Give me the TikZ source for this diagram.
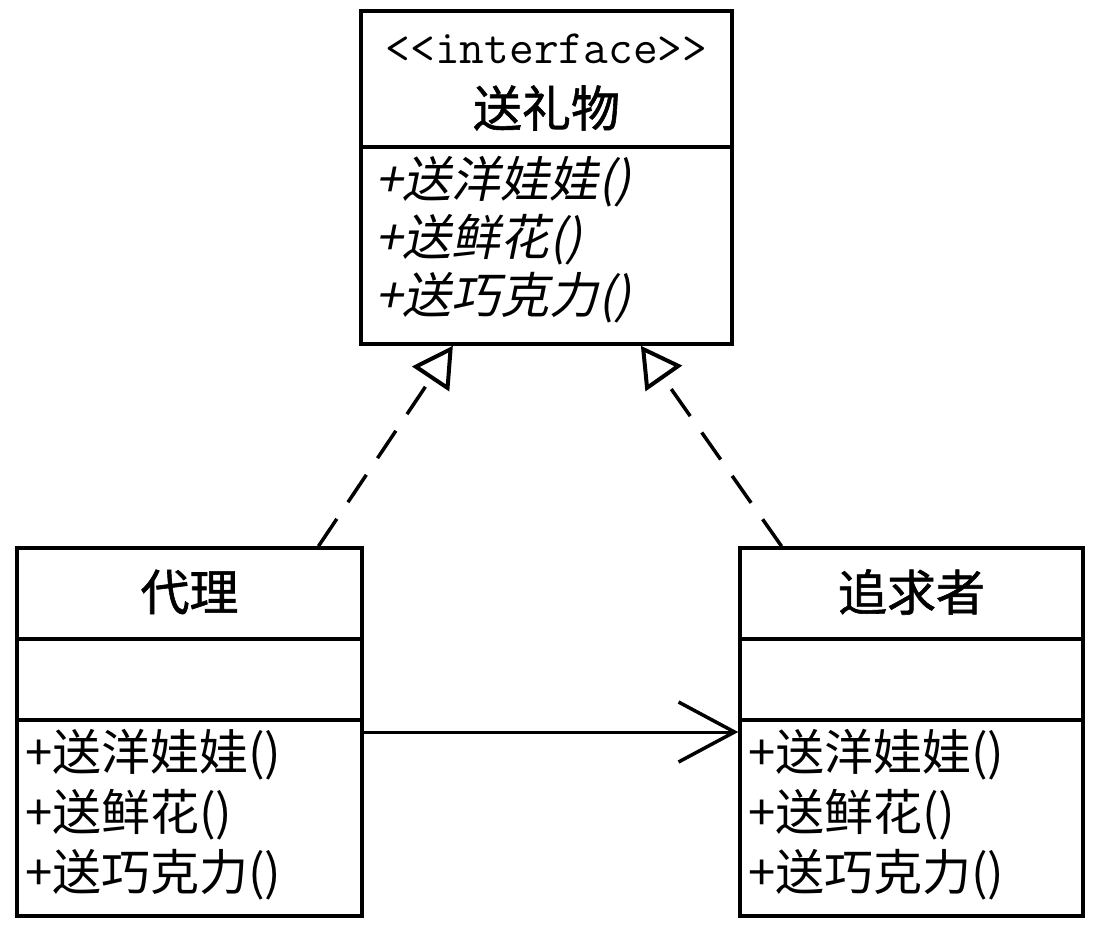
\documentclass[tikz,border=0pt]{standalone}
\usepackage{fontspec}
\newfontfamily\cjk{Noto Sans CJK SC}
\newfontfamily\cjkheavy{Noto Sans CJK SC}[FakeBold=1.2]
\newfontfamily\cjkslant{Noto Sans CJK SC}[FakeSlant=0.2]
\usepackage{tikz}
\usetikzlibrary
  {
    arrows.meta, % open triangle and barb heads
    calc,        % points along the box borders
  }

\tikzset{
  classbox/.style={draw, line width=3.5pt, inner sep=0pt},
  divider/.style={line width=3.5pt},
  classname/.style={font=\cjkheavy\fontsize{49}{58}\selectfont, inner sep=0pt},
  ops/.style={font=\cjk\fontsize{49}{60}\selectfont, align=left, anchor=west, inner sep=0pt},
  slantops/.style={ops, font=\cjkslant\fontsize{49}{58}\selectfont},
  realize/.style={line width=3.5pt, dash pattern=on 33pt off 20pt,
    -{Triangle[open, length=40pt, width=44pt, line width=4pt]}},
  assoc/.style={line width=3pt, -{Straight Barb[length=56pt, width=60pt, line width=3.5pt]}},
}

\begin{document}
\begin{tikzpicture}[x=1pt, y=-1pt]
    \useasboundingbox (0,0) rectangle (1098,930);

    % the interface
    \node[classbox, minimum width=371pt, minimum height=333pt] (gift) at (546.5,177.5) {};
    \draw[divider] (gift.west |- 0,147) -- (gift.east |- 0,147);
    \node[font=\ttfamily\fontsize{48}{58}\selectfont, inner sep=0pt] (giftstereo) at (546.5,49)
      {<\kern0pt<interface>\kern0pt>};
    \node[classname] (gifttitle) at (546.5,108) {送礼物};
    \node[slantops] (giftops) at (375,240) {+送洋娃娃()\\+送鲜花()\\+送巧克力()};

    % the proxy
    \node[classbox, minimum width=345pt, minimum height=368pt] (proxy) at (189.5,732) {};
    \draw[divider] (proxy.west |- 0,639) -- (proxy.east |- 0,639);
    \draw[divider] (proxy.west |- 0,720) -- (proxy.east |- 0,720);
    \node[classname] (proxytitle) at (189.5,592) {代理};
    \node[ops] (proxyops) at (25,815) {+送洋娃娃()\\+送鲜花()\\+送巧克力()};

    % the suitor
    \node[classbox, minimum width=343pt, minimum height=368pt] (suitor) at (911.5,732) {};
    \draw[divider] (suitor.west |- 0,639) -- (suitor.east |- 0,639);
    \draw[divider] (suitor.west |- 0,720) -- (suitor.east |- 0,720);
    \node[classname] (suitortitle) at (911.5,592) {追求者};
    \node[ops] (suitorops) at (748,815) {+送洋娃娃()\\+送鲜花()\\+送巧克力()};

    \draw[realize] ($(proxy.north west)!0.87!(proxy.north east)$)
      -- ($(gift.south west)!0.25!(gift.south east)$);
    \draw[realize] ($(suitor.north west)!0.125!(suitor.north east)$)
      -- ($(gift.south west)!0.752!(gift.south east)$);
    \draw[assoc] (proxy) -- (suitor);
  \end{tikzpicture}
\end{document}
